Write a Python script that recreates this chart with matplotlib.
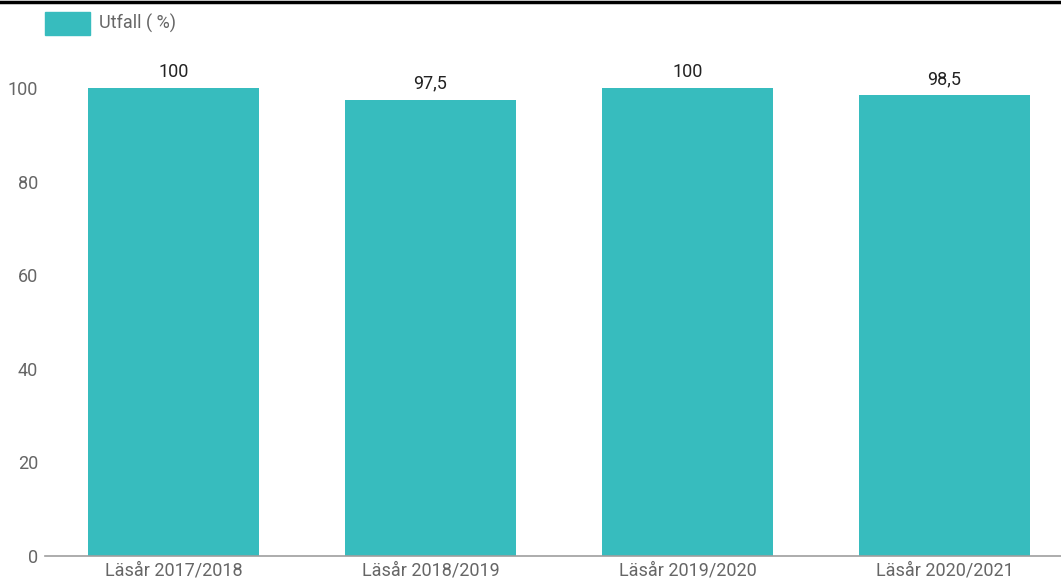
import matplotlib
matplotlib.use("Agg")
import matplotlib.pyplot as plt
from matplotlib.patches import Rectangle
from matplotlib.lines import Line2D

categories = ["Läsår 2017/2018", "Läsår 2018/2019", "Läsår 2019/2020", "Läsår 2020/2021"]
values = [100, 97.5, 100, 98.5]
value_labels = ["100", "97,5", "100", "98,5"]
yticks = [0, 20, 40, 60, 80, 100]
series_name = "Utfall ( %)"

plt.rcParams['font.family'] = ['Roboto', 'DejaVu Sans']
W, H = 1061, 586
fig = plt.figure(figsize=(W/100, H/100), dpi=100)
color = "#37BCBE"

x0, y0 = 45, 556
px_per_unit = 4.68
top_units = 110
ax = fig.add_axes([x0/W, (H-y0)/H, (W-x0)/W, top_units*px_per_unit/H])
spacing = 257
xs = list(range(len(categories)))
ax.bar(xs, values, width=171/spacing, color=color, zorder=2)
ax.set_xlim(-0.5, (W-x0)/spacing - 0.5)
ax.set_ylim(0, top_units)
for s in ["top", "right", "left"]:
    ax.spines[s].set_visible(False)
ax.spines["bottom"].set_color("#9e9e9e")
ax.spines["bottom"].set_linewidth(1.2)
ax.set_yticks(yticks)
ax.set_yticklabels([str(t) for t in yticks])
ax.set_xticks(xs)
ax.set_xticklabels(categories)
ax.tick_params(axis="y", length=0, pad=5, labelsize=13, labelcolor="#666666")
ax.tick_params(axis="x", length=0, pad=4, labelsize=13, labelcolor="#666666")
for x, v, lab in zip(xs, values, value_labels):
    ax.annotate(lab, (x, v), xytext=(0, 5), textcoords="offset points",
                ha="center", va="bottom", fontsize=13, color="#222222")

# top black line
fig.add_artist(Line2D([0, 1], [1 - 1.5/H, 1 - 1.5/H], color="black", linewidth=2.5, transform=fig.transFigure))
# legend
fig.add_artist(Rectangle((45/W, 1 - 35/H), 45/W, 23/H, color=color, transform=fig.transFigure))
fig.text(99/W, 1 - 23/H, series_name, ha="left", va="center", fontsize=13, color="#666666")

fig.savefig("out.png", dpi=100)
